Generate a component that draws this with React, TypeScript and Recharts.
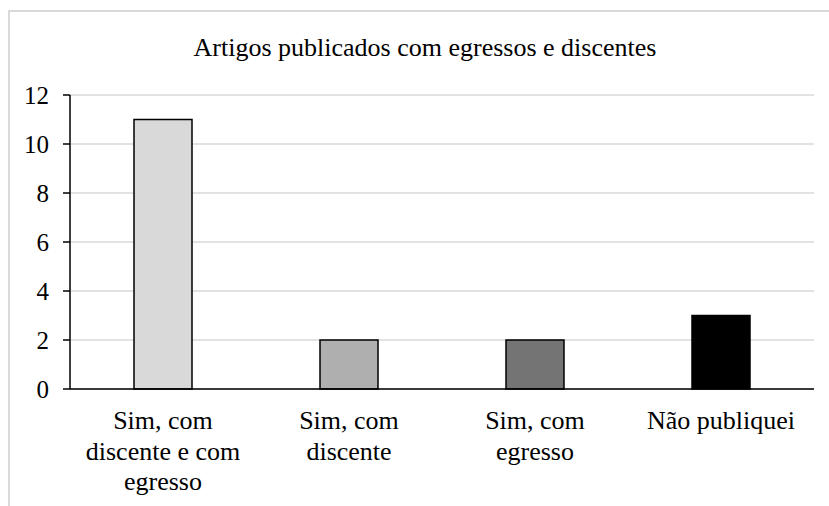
import { BarChart, Bar, XAxis, YAxis, CartesianGrid, Cell } from 'recharts';

const categories = ['Sim, com\ndiscente e com\negresso', 'Sim, com\ndiscente', 'Sim, com\negresso', 'Não publiquei'];
const valores = [11, 2, 2, 3];
const cores = ['#d9d9d9', '#afafaf', '#747474', '#000000'];
const yTicks = [0, 2, 4, 6, 8, 10, 12];

const chartData = categories.map((c, i) => ({ categoria: c, valor: valores[i] }));

function CategoryTick({ x, y, payload }: any) {
  const lines = String(payload.value).split('\n');
  return (
    <text x={x} y={y} textAnchor="middle" fontSize={26} fontFamily="serif" fill="#000">
      {lines.map((l, i) => (
        <tspan key={i} x={x} y={y + 40 + i * 30.5}>
          {l}
        </tspan>
      ))}
    </text>
  );
}

export default function App() {
  return (
    <div>
      <div
        style={{
          position: 'absolute',
          left: 8,
          top: 10,
          width: 821,
          height: 496,
          borderLeft: '2px solid #d9d9d9',
          borderTop: '2px solid #d9d9d9',
          boxSizing: 'border-box',
        }}
      />
      <div
        style={{
          position: 'absolute',
          left: 0,
          top: 35,
          width: 850,
          fontFamily: 'serif',
          fontSize: 26,
          lineHeight: '26px',
          whiteSpace: 'nowrap',
          textAlign: 'center',
        }}
      >
        Artigos publicados com egressos e discentes
      </div>
      <div style={{ position: 'absolute', left: 0, top: 0 }}>
        <BarChart width={829} height={506} data={chartData} margin={{ top: 95, right: 15, bottom: 0, left: 0 }}>
          <CartesianGrid vertical={false} stroke="#d9d9d9" strokeWidth={1.5} />
          <XAxis
            dataKey="categoria"
            axisLine={{ stroke: '#000', strokeWidth: 1.5 }}
            tickLine={false}
            tickSize={0}
            tickMargin={0}
            height={117}
            interval={0}
            tick={<CategoryTick />}
          />
          <YAxis
            domain={[0, 12]}
            ticks={yTicks}
            width={70}
            axisLine={{ stroke: '#000', strokeWidth: 1.5 }}
            tickLine={{ stroke: '#000', strokeWidth: 1.5 }}
            tickSize={7}
            tickMargin={14}
            tick={{ fill: '#000', fontSize: 25, fontFamily: 'serif' }}
          />
          <Bar dataKey="valor" barSize={58} stroke="#000" strokeWidth={1.5} isAnimationActive={false}>
            {chartData.map((_, i) => (
              <Cell key={i} fill={cores[i]} />
            ))}
          </Bar>
        </BarChart>
      </div>
    </div>
  );
}
